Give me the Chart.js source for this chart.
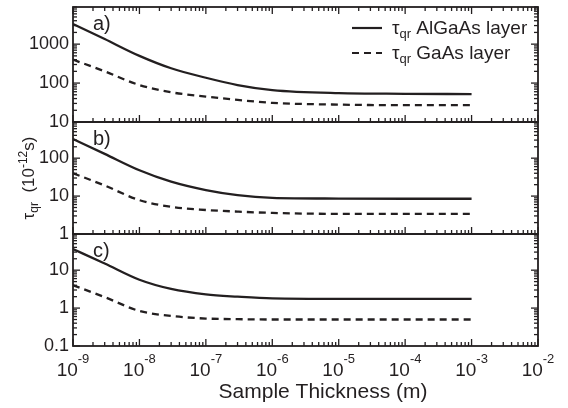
<!DOCTYPE html>
<html>
<head>
<meta charset="utf-8">
<script src="https://cdn.jsdelivr.net/npm/chart.js@4/dist/chart.umd.min.js"></script>
<style>
html, body { margin: 0; padding: 0; background: #fff; }
#wrap { position: relative; width: 568px; height: 408px; }
#wrap canvas { position: absolute; left: 0; top: 0; }
</style>
</head>
<body>
<div id="wrap">
  <canvas id="panelA" width="568" height="408"></canvas>
  <canvas id="panelB" width="568" height="408"></canvas>
  <canvas id="panelC" width="568" height="408"></canvas>
</div>
<script>
// sample thickness (m)
const thickness = [1e-9, 3e-9, 1e-8, 3e-8, 1e-7, 3e-7, 1e-6, 1e-5, 1e-4, 1e-3];

// tau_qr (1e-12 s), panel a)
const tauAlGaAsA = [3300, 1350, 500, 240, 137, 89, 66, 55, 53, 52];
const tauGaAsA   = [400, 200, 89, 58, 45, 37, 31, 28, 27, 27];
// panel b)
const tauAlGaAsB = [320, 130, 48, 24, 14.4, 10.6, 9.0, 8.6, 8.5, 8.5];
const tauGaAsB   = [40, 19, 7.8, 5.2, 4.3, 3.9, 3.6, 3.4, 3.4, 3.4];
// panel c)
const tauAlGaAsC = [36, 15, 5.6, 3.2, 2.3, 2.0, 1.8, 1.75, 1.75, 1.75];
const tauGaAsC   = [4, 1.95, 0.84, 0.62, 0.53, 0.51, 0.5, 0.5, 0.5, 0.5];

// axes
const xTickExps = [-9, -8, -7, -6, -5, -4, -3, -2];
const yTicksA = [10, 100, 1000];
const yTicksB = [1, 10, 100];
const yTicksC = [0.1, 1, 10];
const yMaxA = 9000, yMaxB = 900, yMaxC = 90;

const INK = '#231f20';
const FONT = '"Liberation Sans", Arial, Helvetica, sans-serif';

function logTicks(min, max) {
    const out = [];
    for (let k = Math.floor(Math.log10(min)) - 1; k <= Math.ceil(Math.log10(max)); k++) {
        for (let m = 1; m <= 9; m++) {
            const v = m * Math.pow(10, k);
            if (v >= min * 0.9999 && v <= max * 1.0001) out.push({ v, major: m === 1 });
        }
    }
    return out;
}

function seg(ctx, x1, y1, x2, y2) {
    ctx.beginPath();
    ctx.moveTo(x1, y1);
    ctx.lineTo(x2, y2);
    ctx.stroke();
}

// draws text pieces in a row: [text, size, baseline shift]
function pieces(ctx, parts, x, y) {
    let cx = x;
    parts.forEach(([t, size, dy]) => {
        ctx.font = size + 'px ' + FONT;
        ctx.fillText(t, cx, y + dy);
        cx += ctx.measureText(t).width;
    });
    return cx - x;
}
function piecesWidth(ctx, parts) {
    let w = 0;
    parts.forEach(([t, size]) => { ctx.font = size + 'px ' + FONT; w += ctx.measureText(t).width; });
    return w;
}

const panelDeco = {
    id: 'panelDeco',
    afterDraw(chart, args, opts) {
        const ctx = chart.ctx;
        const { left, right, top, bottom } = chart.chartArea;
        const xs = chart.scales.x, ys = chart.scales.y;
        ctx.save();
        ctx.strokeStyle = INK;
        ctx.fillStyle = INK;
        ctx.lineWidth = 1.8;
        ctx.strokeRect(left, top, right - left, bottom - top);

        // inward ticks
        ctx.lineWidth = 1.3;
        logTicks(ys.min, ys.max).forEach(t => {
            const py = ys.getPixelForValue(t.v);
            const len = t.major ? 7 : 4;
            seg(ctx, left, py, left + len, py);
            seg(ctx, right, py, right - len, py);
        });
        logTicks(xs.min, xs.max).forEach(t => {
            const px = xs.getPixelForValue(t.v);
            const len = t.major ? 7 : 4;
            seg(ctx, px, bottom, px, bottom - len);
            if (opts.topTicks) seg(ctx, px, top, px, top + len);
        });

        // panel label
        ctx.textAlign = 'left';
        ctx.textBaseline = 'alphabetic';
        ctx.font = '20px ' + FONT;
        ctx.fillText(opts.label, left + 20, top + 23);

        if (opts.legend) {
            ctx.lineWidth = 2.2;
            seg(ctx, 352, 28, 382, 28);
            ctx.setLineDash([7, 5]);
            seg(ctx, 352, 53, 382, 53);
            ctx.setLineDash([]);
            pieces(ctx, [['\u03C4', 19, 0], ['qr', 13, 4], [' AlGaAs layer', 19, 0]], 392, 34);
            pieces(ctx, [['\u03C4', 19, 0], ['qr', 13, 4], [' GaAs layer', 19, 0]], 392, 59);
        }

        if (opts.yTitle) {
            const parts = [['\u03C4', 17, 0], ['qr', 12, 4], ['  (10', 17, 0], ['-12', 12, -7], ['s)', 17, 0]];
            ctx.save();
            ctx.translate(34, 178);
            ctx.rotate(-Math.PI / 2);
            const w = piecesWidth(ctx, parts);
            pieces(ctx, parts, -w / 2, 0);
            ctx.restore();
        }

        if (opts.xLabels) {
            xTickExps.forEach(e => {
                const px = xs.getPixelForValue(Math.pow(10, e));
                const parts = [['10', 19, 0], [String(e), 13, -13]];
                const w = piecesWidth(ctx, parts);
                pieces(ctx, parts, px - w / 2, 376);
            });
            ctx.font = '21px ' + FONT;
            ctx.textAlign = 'center';
            ctx.fillText('Sample Thickness (m)', 323, 398);
        }
        ctx.restore();
    }
};

function makePanel(id, solid, dashed, yTicks, yMax, deco) {
    return new Chart(document.getElementById(id), {
        type: 'line',
        data: {
            datasets: [
                {
                    data: thickness.map((x, i) => ({ x, y: solid[i] })),
                    borderColor: INK, borderWidth: 2.3, pointRadius: 0,
                    cubicInterpolationMode: 'monotone', fill: false
                },
                {
                    data: thickness.map((x, i) => ({ x, y: dashed[i] })),
                    borderColor: INK, borderWidth: 2.3, borderDash: [7, 5], pointRadius: 0,
                    cubicInterpolationMode: 'monotone', fill: false
                }
            ]
        },
        options: {
            responsive: false,
            animation: false,
            devicePixelRatio: 1,
            layout: { padding: { left: 0, right: 30, top: deco.top, bottom: 408 - deco.bottom } },
            plugins: { legend: { display: false }, tooltip: { enabled: false }, panelDeco: deco },
            scales: {
                x: { type: 'logarithmic', min: 1e-9, max: 1e-2, display: false },
                y: {
                    type: 'logarithmic', min: yTicks[0], max: yMax,
                    afterBuildTicks: s => { s.ticks = yTicks.map(v => ({ value: v })); },
                    afterFit: s => { s.width = 73; s.paddingTop = 0; s.paddingBottom = 0; },
                    grid: { display: false, drawTicks: false },
                    border: { display: false },
                    ticks: {
                        autoSkip: false, padding: 4, color: INK,
                        font: { family: FONT, size: 18 },
                        callback: v => String(v)
                    }
                }
            }
        },
        plugins: [panelDeco]
    });
}

makePanel('panelA', tauAlGaAsA, tauGaAsA, yTicksA, yMaxA,
    { top: 7, bottom: 122, label: 'a)', topTicks: true, legend: true });
makePanel('panelB', tauAlGaAsB, tauGaAsB, yTicksB, yMaxB,
    { top: 122, bottom: 234, label: 'b)', yTitle: true });
makePanel('panelC', tauAlGaAsC, tauGaAsC, yTicksC, yMaxC,
    { top: 234, bottom: 346, label: 'c)', xLabels: true });
</script>
</body>
</html>
